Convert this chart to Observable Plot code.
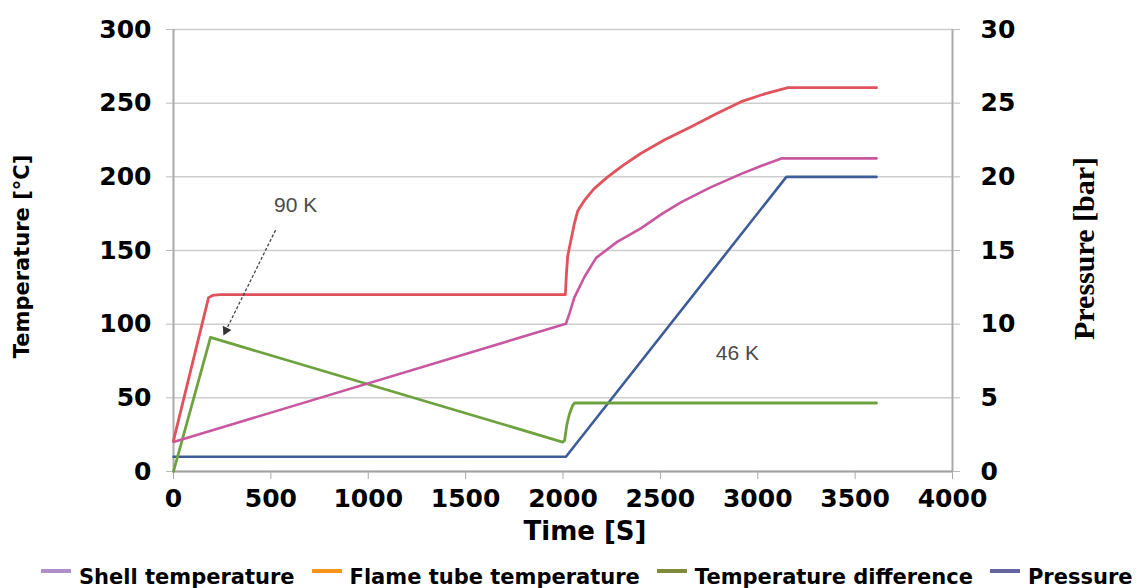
<!DOCTYPE html>
<html>
<head>
<meta charset="utf-8">
<script src="https://cdn.jsdelivr.net/npm/d3@7"></script>
<script src="https://cdn.jsdelivr.net/npm/@observablehq/plot@0.6"></script>
<style>
  html, body { margin: 0; padding: 0; background: #fff; }
  #legend { display: flex; align-items: center; height: 35px; padding-left: 41px;
            font: bold 21px "DejaVu Sans", sans-serif; color: #000; }
  #legend .item { display: flex; align-items: center; margin-right: 17px; white-space: nowrap; position: relative; top: 6px; }
  #legend .sw { display: inline-block; width: 30px; height: 4px; margin-right: 8px; position: relative; top: -6px; }
</style>
</head>
<body>
<div id="chart"></div>
<div id="legend"></div>
<script>
// ---- data ----
const shellTime = [0, 2015, 2035, 2058, 2110, 2170, 2280, 2400, 2510, 2610, 2760, 2915, 3020, 3121, 3610];
const shellTemp = [20, 100.3, 108, 118, 132, 145, 156, 165, 175, 183, 193, 202, 207.5, 212.5, 212.5];

const flameTime = [0, 180, 200, 240, 2012, 2018, 2024, 2033, 2058, 2076, 2110, 2160, 2230, 2310, 2401, 2520, 2658, 2790, 2915, 3040, 3155, 3610];
const flameTemp = [21, 118, 119.5, 120, 120, 135, 146, 152, 168, 177, 184, 192, 200, 208, 216, 225, 234, 243, 251, 256.5, 260.5, 260.5];

const diffTime = [0, 190, 1998, 2008, 2020, 2033, 2050, 2060, 3610];
const diffTemp = [0, 91, 20, 21, 32, 39, 45, 46.5, 46.5];

const pressTime = [0, 2015, 3147, 3610];
const pressBar = [1, 1, 20, 20];

const xTicks = [0, 500, 1000, 1500, 2000, 2500, 3000, 3500, 4000];
const tempTicks = [0, 50, 100, 150, 200, 250, 300];

const seriesNames = ["Shell temperature", "Flame tube temperature", "Temperature difference", "Pressure"];
const lineColors = ["#c9579f", "#e0525c", "#6da23e", "#3e5c98"];
const legendColors = ["#b08fc8", "#f7941d", "#808a3a", "#6366a0"];

const annotations = [
  {t: 627, v: 180.7, label: "90 K"},
  {t: 2895, v: 80, label: "46 K"}
];
const arrowFrom = {t: 524, v: 163.8};
const arrowTip = {t: 269, v: 95.7};

// ---- build tables ----
const zip = (ts, vs) => ts.map((t, i) => ({t, v: vs[i]}));
const shell = zip(shellTime, shellTemp);
const flame = zip(flameTime, flameTemp);
const diff = zip(diffTime, diffTemp);
const press = zip(pressTime, pressBar);

const bold = {fontFamily: "DejaVu Sans", fontWeight: "bold"};

const chart = Plot.plot({
  width: 1139,
  height: 553,
  marginLeft: 173,
  marginRight: 187,
  marginTop: 29,
  marginBottom: 82,
  style: {fontFamily: "DejaVu Sans", background: "#fff", color: "#000"},
  x: {domain: [0, 4000]},
  y: {domain: [0, 300]},
  marks: [
    Plot.ruleY(tempTicks, {stroke: "#cdcdcd", strokeWidth: 1.5}),
    Plot.ruleX([0, 4000], {stroke: "#a9a9a9", strokeWidth: 2}),
    Plot.ruleY([0], {stroke: "#a0a0a0", strokeWidth: 2}),
    Plot.axisX(xTicks, {tickSize: 8, tickPadding: 10, stroke: "#a9a9a9", fill: "#000", fontSize: 25, ...bold, label: null, tickFormat: d => String(d)}),
    Plot.axisY(tempTicks, {anchor: "left", tickSize: 7, tickPadding: 15, stroke: "#bbb", fill: "#000", fontSize: 25, ...bold, label: null}),
    Plot.axisY(tempTicks, {anchor: "right", tickSize: 7, tickPadding: 21, stroke: "#bbb", fill: "#000", fontSize: 25, ...bold, label: null, tickFormat: d => String(d / 10)}),
    Plot.line(press, {x: "t", y: d => d.v * 10, stroke: lineColors[3], strokeWidth: 2.6}),
    Plot.line(diff, {x: "t", y: "v", stroke: lineColors[2], strokeWidth: 2.8}),
    Plot.line(shell, {x: "t", y: "v", stroke: lineColors[0], strokeWidth: 2.6}),
    Plot.line(flame, {x: "t", y: "v", stroke: lineColors[1], strokeWidth: 2.8}),
    Plot.link([{from: arrowFrom, to: arrowTip}], {x1: d => d.from.t, y1: d => d.from.v, x2: d => d.to.t, y2: d => d.to.v, stroke: "#444", strokeWidth: 1.3, strokeDasharray: "3,2"}),
    Plot.dot([arrowTip], {x: "t", y: "v", symbol: "triangle", r: 3.6, fill: "#333", stroke: "none", rotate: 206}),
    Plot.text(annotations, {x: "t", y: "v", text: "label", fontFamily: "Liberation Sans", fontSize: 21, fill: "#4a4a4a"}),
    Plot.text(["Time [S]"], {text: d => d, frameAnchor: "bottom", textAnchor: "middle", lineAnchor: "middle", dx: 22, dy: 60, fontSize: 26, ...bold, fill: "#000"}),
    Plot.text(["Temperature [°C]"], {text: d => d, frameAnchor: "left", textAnchor: "middle", lineAnchor: "middle", rotate: -90, dx: -151, dy: 6, fontSize: 21, ...bold, fill: "#000"}),
    Plot.text(["Pressure [bar]"], {text: d => d, frameAnchor: "right", textAnchor: "middle", lineAnchor: "middle", rotate: -90, dx: 132, dy: -2, fontSize: 30, fontFamily: "Liberation Serif", fontWeight: "bold", fill: "#000"})
  ]
});
document.getElementById("chart").appendChild(chart);

const legend = document.getElementById("legend");
seriesNames.forEach((name, i) => {
  const item = document.createElement("span");
  item.className = "item";
  const sw = document.createElement("span");
  sw.className = "sw";
  sw.style.background = legendColors[i];
  item.appendChild(sw);
  item.appendChild(document.createTextNode(name));
  legend.appendChild(item);
});
</script>
</body>
</html>
